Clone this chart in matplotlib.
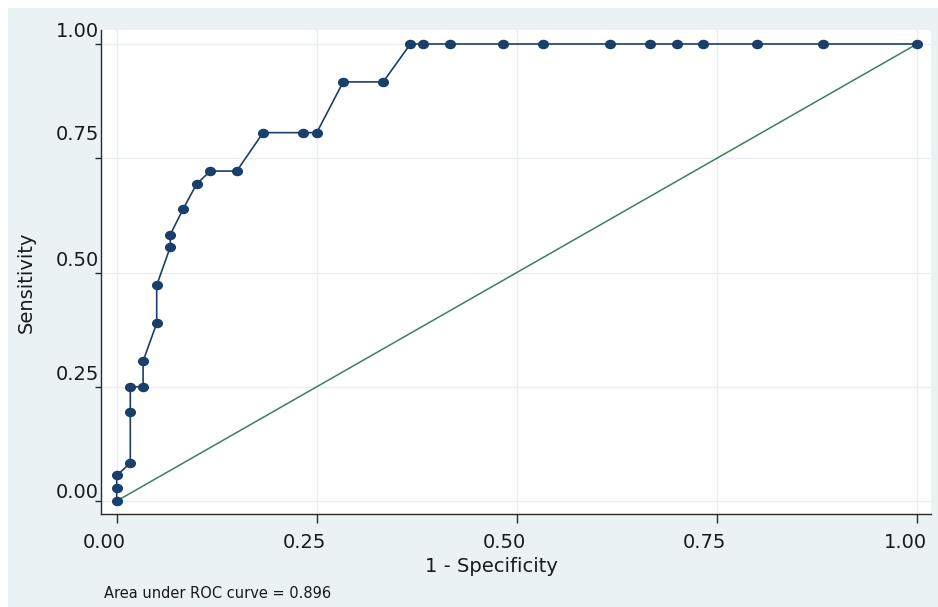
import matplotlib
matplotlib.use('Agg')
import matplotlib.pyplot as plt
import matplotlib.transforms as mtransforms
import matplotlib.path as mpath
from matplotlib.patches import Rectangle

# ---- data ----
fpr = [0.0, 0.0, 0.0, 0.017, 0.017, 0.017, 0.033, 0.033, 0.05, 0.05,
       0.067, 0.067, 0.083, 0.1, 0.117, 0.15, 0.183, 0.233, 0.25, 0.283,
       0.333, 0.367, 0.383, 0.417, 0.483, 0.533, 0.617, 0.667, 0.7, 0.733,
       0.8, 0.883, 1.0]
tpr = [0.0, 0.028, 0.056, 0.083, 0.194, 0.25, 0.25, 0.306, 0.389, 0.472,
       0.556, 0.583, 0.639, 0.694, 0.722, 0.722, 0.806, 0.806, 0.806, 0.917,
       0.917, 1.0, 1.0, 1.0, 1.0, 1.0, 1.0, 1.0, 1.0, 1.0,
       1.0, 1.0, 1.0]
ref_x = [0.0, 1.0]
ref_y = [0.0, 1.0]
tick_vals = [0.0, 0.25, 0.5, 0.75, 1.0]
tick_labels = ['0.00', '0.25', '0.50', '0.75', '1.00']
xlabel_text = '1 - Specificity'
ylabel_text = 'Sensitivity'
note_text = 'Area under ROC curve = 0.896'

# ---- styling ----
W, H, DPI = 938, 607, 100
navy = '#1a3f6b'
green = '#3d7f5e'
bg = '#eaf2f4'
grid_c = '#e8eef1'
text_c = '#1a1a1a'
ylab_dy_px = [11, 14, 14, 26, 14]   # label vertical offsets seen in the reference
xlab_dx_px = -12

fig = plt.figure(figsize=(W / DPI, H / DPI), dpi=DPI, facecolor='white')
fig.add_artist(Rectangle((8 / W, 0), 1, (H - 8) / H, transform=fig.transFigure,
                         facecolor=bg, edgecolor='none', zorder=-10))

ax = fig.add_axes([101 / W, 1 - 514 / H, 830 / W, 484 / H])
ax.set_facecolor('white')

circle = mpath.Path.unit_circle()
ell = mpath.Path(circle.vertices * [1.2, 1.0], circle.codes)

ax.plot(ref_x, ref_y, color=green, lw=1.1, zorder=2)
ax.plot(fpr, tpr, color=navy, lw=1.2, marker=ell, ms=7.0,
        mfc=navy, mec=navy, zorder=3)

ax.set_xlim(-0.0196, 1.0175)
ax.set_ylim(-0.0284, 1.0306)
ax.set_xticks(tick_vals)
ax.set_xticklabels(tick_labels)
ax.set_yticks(tick_vals)
ax.set_yticklabels(tick_labels)

ax.grid(True, color=grid_c, lw=1.0)
ax.set_axisbelow(True)
for s in ['top', 'right']:
    ax.spines[s].set_visible(False)
for s in ['left', 'bottom']:
    ax.spines[s].set_color('#2a2a2a')
    ax.spines[s].set_linewidth(1.0)

ax.tick_params(axis='x', length=6.5, width=1, color='#2a2a2a', pad=7,
               labelsize=14, labelcolor=text_c)
ax.tick_params(axis='y', length=4.3, width=1, color='#2a2a2a', pad=-3,
               labelsize=14, labelcolor=text_c)

for lbl, dy in zip(ax.get_yticklabels(), ylab_dy_px):
    lbl.set_transform(lbl.get_transform() +
                      mtransforms.ScaledTranslation(0, dy / DPI, fig.dpi_scale_trans))
for lbl in ax.get_xticklabels():
    lbl.set_transform(lbl.get_transform() +
                      mtransforms.ScaledTranslation(xlab_dx_px / DPI, 0, fig.dpi_scale_trans))

fig.text(491 / W, 1 - 567 / H, xlabel_text, ha='center', va='center',
         fontsize=14, color=text_c)
fig.text(26 / W, 1 - 282 / H, ylabel_text, rotation=90, ha='center', va='center',
         fontsize=14, color=text_c)
fig.text(104 / W, 1 - 593 / H, note_text, ha='left', va='center',
         fontsize=10.5, color=text_c)

fig.savefig('out.png', dpi=DPI, facecolor='white')
